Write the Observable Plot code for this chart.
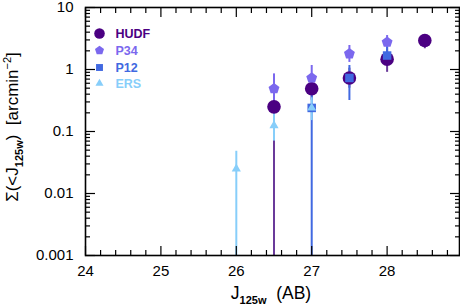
<!DOCTYPE html>
<html><head><meta charset="utf-8">
<script src="https://cdn.jsdelivr.net/npm/d3@7"></script>
<script src="https://cdn.jsdelivr.net/npm/@observablehq/plot@0.6"></script>
<style>body{margin:0;background:#fff;font-family:"Liberation Sans",Arial,sans-serif}</style>
</head><body><div id="chart"></div>
<script>
// ---- data ----
const seriesNames = ["HUDF", "P34", "P12", "ERS"];
const seriesColors = ["#4B0082", "#7B68EE", "#4169E1", "#87CEFA"];

const hudfMag = [26.5, 27, 27.5, 28, 28.5];
const hudfVal = [0.25, 0.49, 0.73, 1.47, 2.94];
const hudfLo  = [0.001, 0.32, 0.5, 0.9, 2.16];
const hudfHi  = [0.4, 0.7, 1.05, 2.1, 3.6];

const p34Mag = [26.5, 27, 27.5, 28];
const p34Val = [0.49, 0.73, 1.79, 2.76];
const p34Lo  = [0.3, 0.45, 1.3, 2.1];
const p34Hi  = [0.85, 1.16, 2.44, 3.53];

const p12Mag = [27, 27.5, 28];
const p12Val = [0.24, 0.73, 1.68];
const p12Lo  = [0.001, 0.316, 1.2];
const p12Hi  = [0.4, 1.16, 2.3];

const ersMag = [26, 26.5, 27];
const ersVal = [0.025, 0.125, 0.24];
const ersLo  = [0.001, 0.07, 0.15];
const ersHi  = [0.048, 0.2, 0.35];

const xMajor = [24, 25, 26, 27, 28];
const xMajorLabels = ["24", "25", "26", "27", "28"];
const yMajor = [0.001, 0.01, 0.1, 1, 10];
const yMajorLabels = ["0.001", "0.01", "0.1", "1", "10"];

// ---- build tables ----
function rows(mag, val, lo, hi) { return mag.map((m, i) => ({mag: m, val: val[i], lo: lo[i], hi: hi[i]})); }
const tables = [rows(hudfMag, hudfVal, hudfLo, hudfHi), rows(p34Mag, p34Val, p34Lo, p34Hi),
                rows(p12Mag, p12Val, p12Lo, p12Hi), rows(ersMag, ersVal, ersLo, ersHi)];

const pentagon = {
  draw(ctx, size) {
    const r = Math.sqrt(size / Math.PI) * 1.1;
    for (let k = 0; k < 5; ++k) {
      const a = -Math.PI / 2 + k * 2 * Math.PI / 5;
      const px = r * Math.cos(a), py = r * Math.sin(a);
      k ? ctx.lineTo(px, py) : ctx.moveTo(px, py);
    }
    ctx.closePath();
  }
};
const symbols = ["circle", pentagon, "square", "triangle"];
const dataR = [6.8, 5.2, 4.8, 3.4];
const legendR = [5.3, 4.3, 3.9, 3.0];
const legendDy = [26, 43, 60, 76];
const barColors = ["#6a3a9a", "#7B68EE", "#4169E1", "#87CEFA"];

const xMinor = d3.range(24, 29, 0.2).map(v => +v.toFixed(1)).filter(v => !xMajor.includes(v) && v <= 28.9);
const yMinor = [];
for (const dec of [0.001, 0.01, 0.1, 1]) for (let m = 2; m <= 9; ++m) yMinor.push(+(m * dec).toPrecision(3));

const marks = [];
tables.forEach((t, i) => marks.push(Plot.ruleX(t, {x: "mag", y1: "lo", y2: "hi", stroke: barColors[i], strokeWidth: 2})));
tables.forEach((t, i) => marks.push(Plot.dot(t, {x: "mag", y: "val", r: dataR[i], symbol: symbols[i], fill: seriesColors[i], stroke: "none"})));
seriesNames.forEach((name, i) => {
  marks.push(Plot.dot([name], {frameAnchor: "top-left", dx: 14, dy: legendDy[i], r: legendR[i], symbol: symbols[i], fill: seriesColors[i], stroke: "none"}));
  marks.push(Plot.text([name], {frameAnchor: "top-left", dx: 30, dy: legendDy[i], text: d => d, textAnchor: "start", lineAnchor: "middle", fill: seriesColors[i], fontWeight: "bold", fontSize: 12.5}));
});

const tickStyle = {label: null, strokeWidth: 1.2, fontSize: 15};
marks.push(
  Plot.axisX(xMajor, {...tickStyle, anchor: "bottom", tickSize: -9, tickPadding: 19, tickFormat: d => xMajorLabels[xMajor.indexOf(d)]}),
  Plot.axisX(xMinor, {...tickStyle, anchor: "bottom", tickSize: -5, tickFormat: () => ""}),
  Plot.axisX(xMajor, {...tickStyle, anchor: "top", tickSize: -9, tickFormat: () => ""}),
  Plot.axisX(xMinor, {...tickStyle, anchor: "top", tickSize: -5, tickFormat: () => ""}),
  Plot.axisY(yMajor, {...tickStyle, anchor: "left", tickSize: -10, tickPadding: 22, tickFormat: d => yMajorLabels[yMajor.indexOf(d)]}),
  Plot.axisY(yMinor, {...tickStyle, anchor: "left", tickSize: -5, tickFormat: () => ""}),
  Plot.axisY(yMajor, {...tickStyle, anchor: "right", tickSize: -10, tickFormat: () => ""}),
  Plot.axisY(yMinor, {...tickStyle, anchor: "right", tickSize: -5, tickFormat: () => ""}),
  Plot.frame({stroke: "black", strokeWidth: 1.6})
);

const chart = Plot.plot({
  width: 460, height: 307,
  marginTop: 7, marginRight: 1, marginBottom: 52, marginLeft: 85,
  style: {fontFamily: "'Liberation Sans', Arial, sans-serif", color: "black", background: "white"},
  x: {domain: [24, 28.96], axis: null},
  y: {type: "log", domain: [0.001, 10], axis: null},
  marks
});
document.getElementById("chart").append(chart);

// axis titles with sub/superscripts
const svg = d3.select(chart);
const xl = svg.append("text").attr("x", 271).attr("y", 299).attr("text-anchor", "middle")
  .attr("font-size", 17.5).attr("fill", "black");
xl.append("tspan").text("J");
xl.append("tspan").attr("dy", 5).attr("font-size", 11).attr("font-weight", "bold").text("125w");
xl.append("tspan").attr("dy", -5).text("\u00a0\u00a0(AB)");

const yl = svg.append("text").attr("transform", "translate(18,127) rotate(-90)").attr("text-anchor", "middle")
  .attr("font-size", 17).attr("fill", "black");
yl.append("tspan").text("Σ(<J");
yl.append("tspan").attr("dy", 5).attr("font-size", 11).attr("font-weight", "bold").text("125w");
yl.append("tspan").attr("dy", -5).text(")\u00a0\u00a0[arcmin");
yl.append("tspan").attr("dy", -7).attr("font-size", 11).text("−2");
yl.append("tspan").attr("dy", 7).text("]");
</script></body></html>
